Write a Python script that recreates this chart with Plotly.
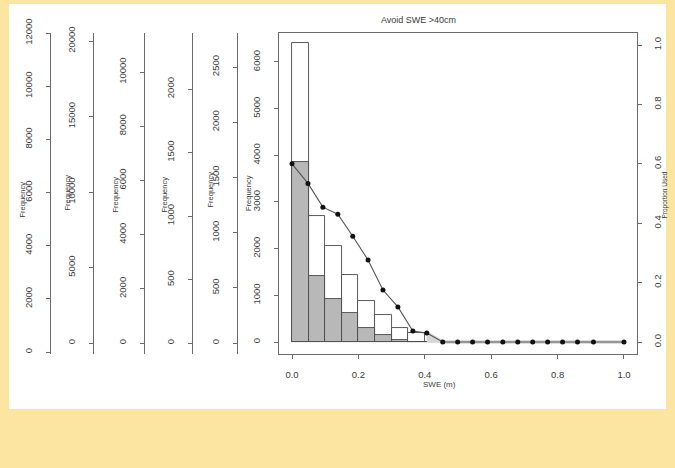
import plotly.graph_objects as go

# ---------------- data ----------------
bin_centers = [0.025, 0.075, 0.125, 0.175, 0.225, 0.275, 0.325, 0.375, 0.425, 0.475]
freq_all = [6410, 2700, 2060, 1440, 880, 580, 300, 190, 0, 0]
freq_used = [3860, 1415, 925, 620, 300, 150, 40, 10, 0, 0]

prop_x = [0.0, 0.048, 0.093, 0.138, 0.183, 0.229, 0.274, 0.319, 0.364, 0.406, 0.454,
          0.499, 0.544, 0.589, 0.635, 0.68, 0.725, 0.77, 0.815, 0.86, 0.908, 1.0]
prop_y = [0.60, 0.534, 0.454, 0.43, 0.356, 0.276, 0.175, 0.118, 0.037, 0.030, 0.0,
          0.0, 0.0, 0.0, 0.0, 0.0, 0.0, 0.0, 0.0, 0.0, 0.0, 0.0]

x_ticks = [0.0, 0.2, 0.4, 0.6, 0.8, 1.0]
x_ticktext = ["0.0", "0.2", "0.4", "0.6", "0.8", "1.0"]
main_ticks = [0, 1000, 2000, 3000, 4000, 5000, 6000]
right_ticks = [0.0, 0.2, 0.4, 0.6, 0.8, 1.0]
right_ticktext = ["0.0", "0.2", "0.4", "0.6", "0.8", "1.0"]
extra_axis_ticks = [
    [0, 2000, 4000, 6000, 8000, 10000, 12000],
    [0, 5000, 10000, 15000, 20000],
    [0, 2000, 4000, 6000, 8000, 10000],
    [0, 500, 1000, 1500, 2000],
    [0, 500, 1000, 1500, 2000, 2500],
]

title_text = "Avoid SWE >40cm"
x_title = "SWE (m)"
y_title = "Frequency"
right_title = "Proportion Used"

# ---------------- layout geometry ----------------
W, H = 675, 468
px = lambda x: x / W
py = lambda y: 1 - y / H

FONT = "Liberation Sans, Arial, sans-serif"
TXT = "#3c3c3c"
AX = "#6a6a6a"

extra_ranges = [[-75, 12000], [-728, 20530], [-406, 11439], [-86.6, 2441], [-99.6, 2808]]
extra_pos = [49.5, 92.5, 144, 192, 236.5]

fig = go.Figure()

# histogram: all (white) then used (grey)
fig.add_trace(go.Bar(x=bin_centers, y=freq_all, width=0.05,
                     marker=dict(color="white", line=dict(color="#4a4a4a", width=0.9)),
                     showlegend=False, hoverinfo="skip"))
fig.add_trace(go.Bar(x=bin_centers, y=freq_used, width=0.05,
                     marker=dict(color="#b8b8b8", line=dict(color="#4a4a4a", width=0.9)),
                     showlegend=False, hoverinfo="skip"))

# light band under the tail of the proportion line
fig.add_trace(go.Scatter(x=prop_x[9:], y=prop_y[9:], yaxis="y7", mode="lines",
                         fill="tozeroy", fillcolor="#d6d6d6",
                         line=dict(color="#d6d6d6", width=3.5),
                         showlegend=False, hoverinfo="skip"))
# proportion line
fig.add_trace(go.Scatter(x=prop_x, y=prop_y, yaxis="y7", mode="lines+markers",
                         line=dict(color="#555555", width=1.1),
                         marker=dict(color="#111111", size=5),
                         showlegend=False, hoverinfo="skip"))

# anchors for the extra stacked axes
for i in range(5):
    fig.add_trace(go.Scatter(x=[0], y=[0], yaxis=f"y{i+2}", mode="markers",
                             marker=dict(opacity=0, size=1),
                             showlegend=False, hoverinfo="skip"))

axis_common = dict(
    showgrid=False, zeroline=False, showline=True, linecolor=AX, linewidth=1,
    ticks="outside", ticklen=4, tickcolor=AX, tickwidth=1,
    tickfont=dict(family=FONT, size=9.5, color=TXT), tickangle=-90,
    ticklabelstandoff=10, automargin=False,
)

layout = dict(
    width=W, height=H,
    margin=dict(l=0, r=0, t=0, b=0, pad=0),
    paper_bgcolor="#FBE5A0",
    plot_bgcolor="white",
    barmode="overlay",
    bargap=0,
    xaxis=dict(domain=[px(279), px(637)], range=[-0.0392, 1.0392],
               showgrid=False, zeroline=False, showline=True, mirror=True,
               linecolor=AX, linewidth=1, ticks="outside", ticklen=4, tickcolor=AX,
               tickvals=x_ticks, ticktext=x_ticktext,
               tickfont=dict(family=FONT, size=9.5, color=TXT),
               ticklabelstandoff=8, automargin=False, anchor="y"),
    yaxis=dict(domain=[py(354), py(33)], range=[-257, 6621],
               tickvals=main_ticks, ticktext=[str(v) for v in main_ticks],
               anchor="x", **axis_common),
    yaxis7=dict(overlaying="y", side="right", anchor="x", range=[-0.0404, 1.0404],
                tickvals=right_ticks, ticktext=right_ticktext,
                **{**axis_common, "ticklabelstandoff": 8}),
)
for i in range(5):
    layout[f"yaxis{i+2}"] = dict(
        overlaying="y", anchor="free", position=px(extra_pos[i]), side="left",
        range=extra_ranges[i], tickvals=extra_axis_ticks[i],
        ticktext=[str(v) for v in extra_axis_ticks[i]], **axis_common)

fig.update_layout(**layout)

# white panel
fig.add_shape(type="rect", xref="paper", yref="paper",
              x0=px(9), x1=px(666), y0=py(409), y1=py(4),
              fillcolor="white", line=dict(width=0), layer="below")

ann = []
ann.append(dict(text=title_text, x=px(458), y=py(13), xref="paper", yref="paper",
                showarrow=False, font=dict(family=FONT, size=9, color=TXT)))
ann.append(dict(text=x_title, x=px(458), y=py(391), xref="paper", yref="paper",
                showarrow=False, font=dict(family=FONT, size=8, color=TXT)))
for xc, yc in [(15, 200), (60, 193), (108, 195), (157, 195), (203, 190), (248, 193)]:
    ann.append(dict(text=y_title, x=px(xc), y=py(yc), xref="paper", yref="paper",
                    showarrow=False, textangle=-90,
                    font=dict(family=FONT, size=7.5, color=TXT)))
ann.append(dict(text=right_title, x=px(670.5), y=py(195), xref="paper", yref="paper",
                showarrow=False, textangle=-90, font=dict(family=FONT, size=6.5, color=TXT)))
fig.update_layout(annotations=ann)

fig.write_html("out.html", config={"displayModeBar": False},
               post_script="document.body.style.margin='0';document.body.style.overflow='hidden';")
